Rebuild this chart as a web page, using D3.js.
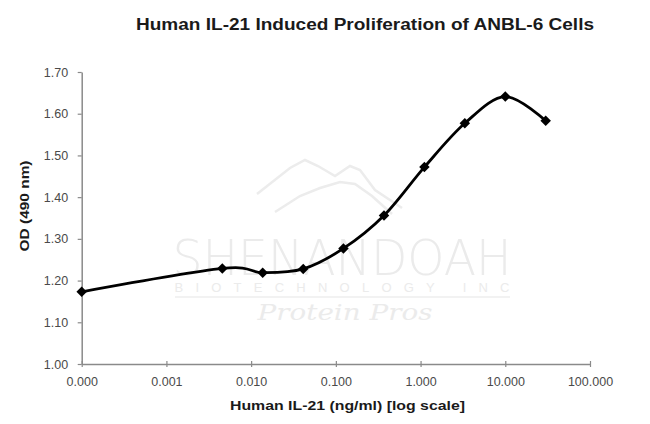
<!DOCTYPE html>
<html><head><meta charset="utf-8">
<script src="https://cdn.jsdelivr.net/npm/d3@7"></script>
<style>body{margin:0;background:#fff}</style>
</head><body>
<script>
const concentrations = [0.0001, 0.00457, 0.0137, 0.0412, 0.123, 0.370, 1.11, 3.33, 10, 30];
const odValues = [1.173, 1.229, 1.219, 1.228, 1.277, 1.356, 1.472, 1.577, 1.641, 1.583];
const xTicks = [0.0001, 0.001, 0.01, 0.1, 1, 10, 100];
const yTicks = [1.00, 1.10, 1.20, 1.30, 1.40, 1.50, 1.60, 1.70];
const title = "Human IL-21 Induced Proliferation of ANBL-6 Cells";
const xLabel = "Human IL-21 (ng/ml) [log scale]";
const yLabel = "OD (490 nm)";

const W = 650, H = 424;
const svg = d3.select("body").append("svg").attr("width", W).attr("height", H)
  .style("font-family", "'Liberation Sans', Arial, sans-serif");

const x = d3.scaleLog().domain([1e-4, 100]).range([81.7, 590]);
const y = d3.scaleLinear().domain([1.0, 1.7]).range([364, 72]);

// watermark
const wm = svg.append("g").attr("fill", "#ebebeb");
svg.append("path")
  .attr("d", "M257,194 L290,168 L305,160 L318,166 L335,176 L350,166 L360,170 L375,190 L402,208 M275,212 L300,196 L320,188 L340,182 L355,184 L372,196 L392,214")
  .attr("fill", "none").attr("stroke", "#ececec").attr("stroke-width", 2.5);
wm.append("text").attr("x", 342).attr("y", 275).attr("text-anchor", "middle")
  .attr("font-size", 50).attr("font-weight", 300).attr("textLength", 339).attr("lengthAdjust", "spacingAndGlyphs")
  .style("font-family", "'DejaVu Sans', sans-serif").text("SHENANDOAH");
wm.append("text").attr("x", 342).attr("y", 292).attr("text-anchor", "middle")
  .attr("font-size", 13).attr("textLength", 335).text("BIOTECHNOLOGY INC");
svg.append("line").attr("x1", 175).attr("x2", 510).attr("y1", 297).attr("y2", 297)
  .attr("stroke", "#eeeeee").attr("stroke-width", 1.5);
wm.append("text").attr("x", 345).attr("y", 320).attr("text-anchor", "middle")
  .attr("font-size", 22).attr("font-style", "italic").attr("textLength", 175).attr("lengthAdjust", "spacingAndGlyphs")
  .style("font-family", "'DejaVu Serif', serif").text("Protein Pros");

// title
svg.append("text").attr("x", 365).attr("y", 30).attr("text-anchor", "middle")
  .attr("font-size", 16).attr("font-weight", "bold").attr("fill", "#1a1a1a")
  .attr("textLength", 458).attr("lengthAdjust", "spacingAndGlyphs").text(title);

// axes
const axisColor = "#8a8a8a";
const fmt3 = d3.format(".3f");
const xAxis = svg.append("g").attr("transform", "translate(0,364)")
  .call(d3.axisBottom(x).tickValues(xTicks).tickFormat(fmt3).tickSizeInner(3).tickSizeOuter(0).tickPadding(10));
xAxis.selectAll(".tick line").attr("y1", -3).attr("y2", 3);
const yAxis = svg.append("g").attr("transform", "translate(81.7,0)")
  .call(d3.axisLeft(y).tickValues(yTicks).tickFormat(d3.format(".2f")).tickSizeInner(4).tickSizeOuter(0).tickPadding(9.5));
[xAxis, yAxis].forEach(g => {
  g.select(".domain").attr("stroke", axisColor).attr("stroke-width", 1.5);
  g.selectAll(".tick line").attr("stroke", axisColor).attr("stroke-width", 1.2);
  g.selectAll(".tick text").attr("fill", "#4a4a4a").attr("font-size", 12.5)
    .style("font-family", "'Liberation Sans', Arial, sans-serif");
});

// axis labels
svg.append("text").attr("x", 347.5).attr("y", 410).attr("text-anchor", "middle")
  .attr("font-size", 13).attr("font-weight", "bold").attr("fill", "#1a1a1a")
  .attr("textLength", 235).attr("lengthAdjust", "spacingAndGlyphs").text(xLabel);
svg.append("text").attr("transform", "translate(29,206) rotate(-90)").attr("text-anchor", "middle")
  .attr("font-size", 13).attr("font-weight", "bold").attr("fill", "#1a1a1a")
  .attr("textLength", 91).attr("lengthAdjust", "spacingAndGlyphs").text(yLabel);

// line
const data = concentrations.map((c, i) => ({c, v: odValues[i]}));
const line = d3.line().x(d => x(d.c)).y(d => y(d.v)).curve(d3.curveCatmullRom.alpha(0));
svg.append("path").datum(data).attr("d", line).attr("fill", "none")
  .attr("stroke", "#000").attr("stroke-width", 2.8).attr("stroke-linejoin", "round");
svg.append("g").selectAll("path").data(data).join("path")
  .attr("d", d3.symbol(d3.symbolDiamond2, 70))
  .attr("transform", d => `translate(${x(d.c)},${y(d.v)})`)
  .attr("fill", "#000");
</script>
</body></html>
